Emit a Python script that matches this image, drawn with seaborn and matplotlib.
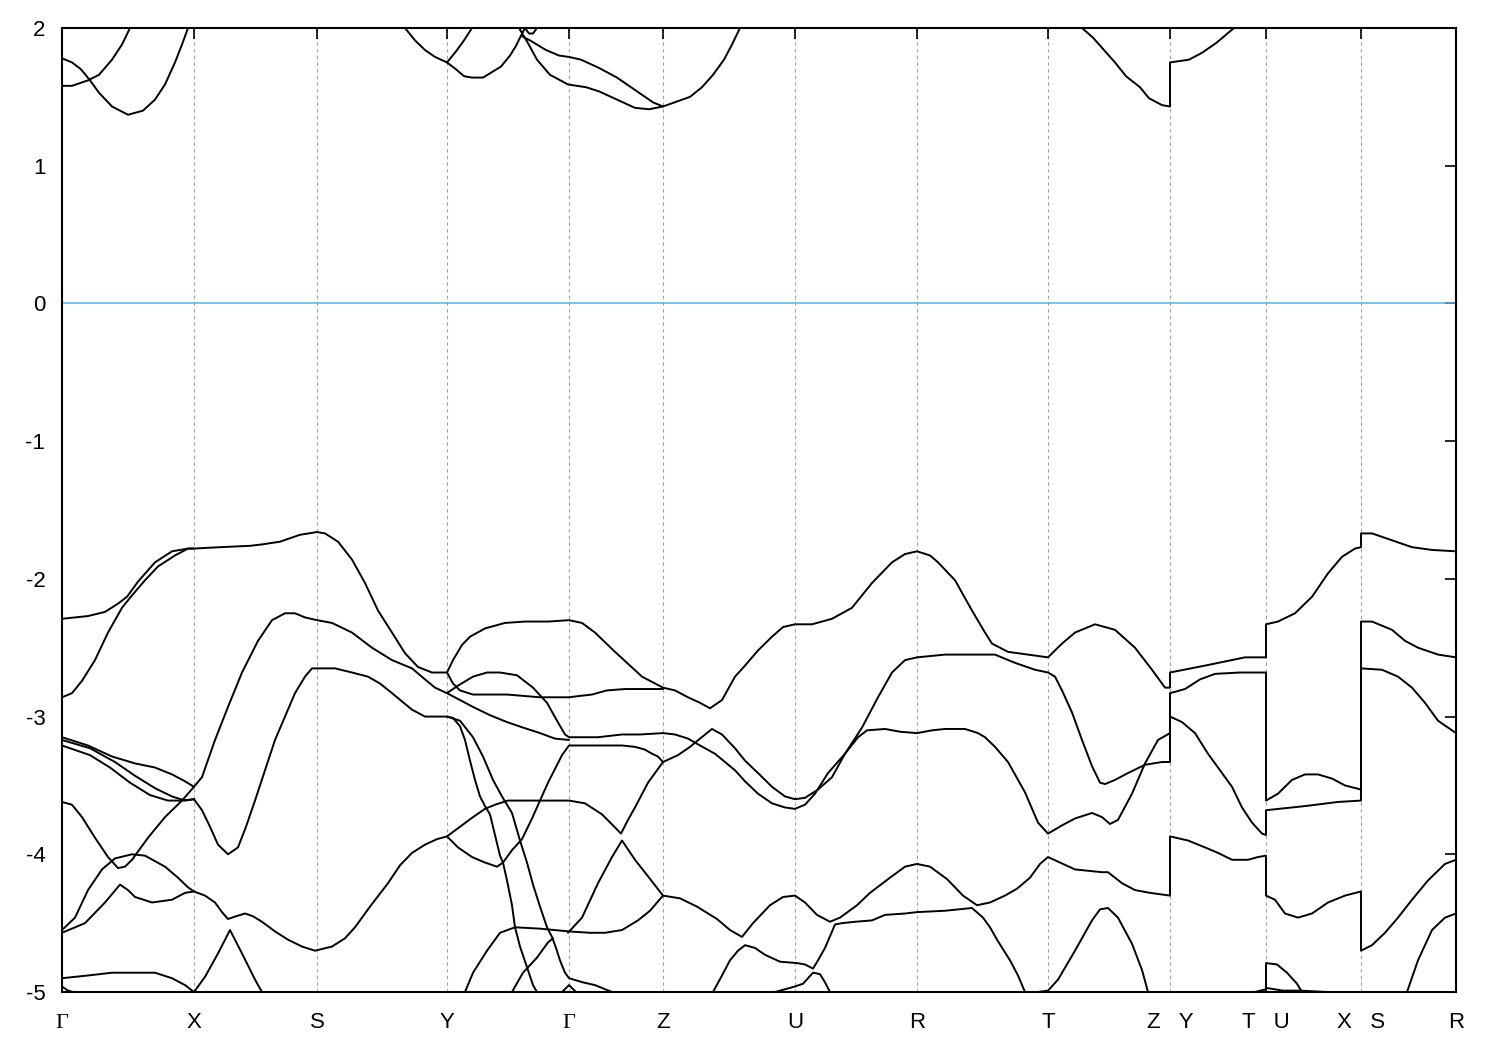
import matplotlib
matplotlib.use("Agg")
import matplotlib.pyplot as plt
import pandas as pd
import seaborn as sns

# ---------- high-symmetry path ----------
hs_k = [0, 132, 255, 385, 507, 601, 733, 855, 986, 1108, 1204, 1299, 1394]
hs_labels = ["Γ", "X", "S", "Y", "Γ", "Z", "U", "R", "T", "Z   Y", "T   U", "X   S", "R"]
y_ticks = [-5, -4, -3, -2, -1, 0, 1, 2]

# ---------- bands (k, E in eV) ----------
# valence bands
band_a = [(0, -2.29), (26, -2.27), (43, -2.24), (56, -2.18), (65, -2.13), (76, -2.02), (93, -1.88),
          (110, -1.80), (126, -1.78), (132, -1.78), (158, -1.77), (188, -1.76), (200, -1.75), (218, -1.73),
          (238, -1.68), (255, -1.66), (263, -1.67), (276, -1.73), (290, -1.86), (303, -2.03), (316, -2.23),
          (330, -2.39), (343, -2.54), (356, -2.64), (370, -2.68), (385, -2.68), (391, -2.59), (400, -2.48),
          (408, -2.42), (423, -2.36), (443, -2.32), (463, -2.31), (486, -2.31), (507, -2.30), (520, -2.32),
          (533, -2.39), (553, -2.53), (580, -2.71), (601, -2.79), (613, -2.81), (626, -2.86), (638, -2.90),
          (648, -2.94), (660, -2.88), (673, -2.71), (683, -2.63), (696, -2.52), (710, -2.42), (721, -2.35),
          (733, -2.33), (750, -2.33), (770, -2.29), (790, -2.21), (810, -2.03), (830, -1.88), (843, -1.82),
          (855, -1.80), (868, -1.83), (876, -1.88), (893, -2.01), (910, -2.23), (923, -2.39), (930, -2.47),
          (946, -2.53), (966, -2.55), (986, -2.57), (1000, -2.47), (1013, -2.39), (1033, -2.33), (1053, -2.37),
          (1073, -2.50), (1090, -2.66), (1103, -2.79), (1108, -2.79), (1108, -2.68), (1143, -2.63),
          (1163, -2.60), (1183, -2.57), (1204, -2.57), (1204, -2.33), (1216, -2.31), (1233, -2.25),
          (1250, -2.13), (1266, -1.96), (1280, -1.84), (1293, -1.78), (1299, -1.77), (1299, -1.67),
          (1310, -1.67), (1330, -1.72), (1350, -1.77), (1370, -1.79), (1394, -1.80)]
band_g2 = [(0, -2.86), (10, -2.83), (20, -2.74), (33, -2.59), (46, -2.39), (60, -2.21), (70, -2.12),
           (83, -2.01), (96, -1.91), (113, -1.83), (126, -1.78), (132, -1.78)]
band_trio1 = [(0, -3.15), (26, -3.21), (50, -3.29), (73, -3.34), (93, -3.37), (110, -3.42), (123, -3.47), (132, -3.51)]
band_trio2 = [(0, -3.17), (28, -3.23), (53, -3.33), (73, -3.43), (93, -3.52), (110, -3.58), (123, -3.61), (132, -3.60)]
band_trio3 = [(0, -3.21), (28, -3.28), (48, -3.37), (68, -3.48), (88, -3.57), (106, -3.61), (120, -3.61), (132, -3.60)]
band_la = [(0, -3.62), (10, -3.64), (20, -3.73), (33, -3.88), (46, -4.02), (56, -4.10), (63, -4.09), (70, -4.04),
           (86, -3.88), (103, -3.73), (120, -3.61), (132, -3.51), (140, -3.44), (153, -3.17), (166, -2.93),
           (180, -2.68), (196, -2.45), (210, -2.30), (223, -2.25), (233, -2.25), (243, -2.28), (255, -2.30),
           (270, -2.32), (290, -2.39), (310, -2.50), (330, -2.59), (350, -2.65), (363, -2.73), (373, -2.79),
           (385, -2.83), (395, -2.78), (411, -2.71), (425, -2.68), (438, -2.68), (455, -2.70), (471, -2.79),
           (485, -2.90), (495, -3.03), (503, -3.13), (507, -3.15), (536, -3.15), (560, -3.13), (578, -3.13),
           (601, -3.12), (613, -3.13), (626, -3.16), (638, -3.21), (653, -3.27), (673, -3.39), (683, -3.47),
           (696, -3.56), (710, -3.63), (723, -3.66), (733, -3.67), (743, -3.64), (753, -3.56), (766, -3.41),
           (783, -3.27), (800, -3.08), (816, -2.86), (830, -2.68), (843, -2.59), (855, -2.57), (883, -2.55),
           (913, -2.55), (933, -2.55), (953, -2.61), (973, -2.66), (986, -2.68), (993, -2.71), (1000, -2.81),
           (1010, -2.97), (1020, -3.17), (1030, -3.36), (1038, -3.48), (1043, -3.49), (1053, -3.46),
           (1066, -3.41), (1083, -3.35), (1100, -3.33), (1108, -3.33), (1108, -3.00), (1120, -3.04),
           (1133, -3.12), (1146, -3.27), (1156, -3.37), (1170, -3.51), (1180, -3.66), (1190, -3.77),
           (1200, -3.85), (1204, -3.86), (1204, -3.68), (1243, -3.65), (1276, -3.62), (1299, -3.61),
           (1299, -2.65), (1320, -2.66), (1336, -2.71), (1350, -2.79), (1363, -2.90), (1376, -3.03), (1394, -3.12)]
band_f = [(132, -3.60), (140, -3.68), (148, -3.80), (156, -3.93), (166, -4.00), (176, -3.95), (184, -3.80),
          (193, -3.61), (203, -3.39), (213, -3.17), (223, -3.00), (233, -2.83), (243, -2.71), (250, -2.65),
          (255, -2.65), (273, -2.65), (290, -2.68), (306, -2.71), (318, -2.76), (330, -2.83), (350, -2.95),
          (363, -3.00), (385, -3.00), (391, -3.01), (398, -3.07), (403, -3.17), (408, -3.32), (413, -3.46),
          (418, -3.58), (423, -3.65), (428, -3.71), (433, -3.86), (438, -4.01), (441, -4.06), (445, -4.19),
          (450, -4.37), (453, -4.53), (458, -4.67), (465, -4.82), (471, -4.95), (475, -5.00)]
band_q = [(385, -3.00), (398, -3.03), (411, -3.15), (421, -3.29), (431, -3.46), (440, -3.58), (450, -3.70),
          (458, -3.90), (465, -4.06), (471, -4.22), (478, -4.38), (485, -4.53), (490, -4.60), (494, -4.68),
          (498, -4.77), (503, -4.86), (507, -4.90), (521, -4.93), (533, -4.95), (550, -5.00)]
band_yrise = [(385, -3.87), (398, -3.80), (411, -3.73), (423, -3.67), (433, -3.64), (446, -3.61), (463, -3.61),
              (483, -3.61), (507, -3.61), (523, -3.63), (540, -3.71), (551, -3.79), (559, -3.85), (566, -3.75),
              (573, -3.66), (586, -3.48), (601, -3.33), (616, -3.28), (628, -3.22), (638, -3.16), (650, -3.09),
              (660, -3.13), (673, -3.23), (683, -3.32), (696, -3.41), (710, -3.51), (723, -3.58), (733, -3.60),
              (743, -3.59), (756, -3.53), (770, -3.44), (783, -3.27), (796, -3.15), (805, -3.10), (823, -3.09),
              (838, -3.11), (855, -3.12), (870, -3.10), (883, -3.09), (903, -3.09), (916, -3.12), (923, -3.15),
              (933, -3.22), (946, -3.33), (963, -3.55), (976, -3.77), (986, -3.85), (1000, -3.79), (1013, -3.74),
              (1030, -3.70), (1040, -3.73), (1048, -3.78), (1056, -3.75), (1070, -3.56), (1083, -3.34),
              (1096, -3.17), (1108, -3.12), (1108, -2.83), (1123, -2.80), (1138, -2.73), (1153, -2.69),
              (1178, -2.68), (1204, -2.68), (1204, -3.61), (1216, -3.56), (1230, -3.46), (1243, -3.42),
              (1256, -3.42), (1270, -3.45), (1283, -3.50), (1299, -3.53), (1299, -2.31), (1310, -2.31),
              (1330, -2.37), (1343, -2.45), (1356, -2.50), (1376, -2.55), (1394, -2.57)]
band_dip = [(385, -3.87), (396, -3.95), (410, -4.02), (423, -4.06), (435, -4.09), (441, -4.06), (450, -3.97),
            (460, -3.89), (470, -3.74), (478, -3.61), (486, -3.48), (493, -3.38), (500, -3.28), (507, -3.21),
            (536, -3.21), (560, -3.21), (573, -3.22), (583, -3.24), (590, -3.27), (596, -3.29), (601, -3.33)]
band_line4 = [(385, -2.83), (398, -2.88), (411, -2.93), (428, -2.99), (445, -3.04), (461, -3.08), (478, -3.12),
              (493, -3.16), (507, -3.17)]
band_c = [(385, -2.68), (391, -2.76), (398, -2.81), (411, -2.84), (445, -2.84), (478, -2.86), (507, -2.86),
          (518, -2.85), (530, -2.84), (545, -2.81), (563, -2.80), (583, -2.80), (601, -2.80)]
band_xs = [(132, -4.27), (143, -4.30), (153, -4.35), (160, -4.42), (166, -4.47), (174, -4.45), (183, -4.43),
           (191, -4.45), (200, -4.49), (213, -4.56), (226, -4.62), (240, -4.67), (253, -4.70), (270, -4.67),
           (283, -4.61), (293, -4.53), (308, -4.38), (326, -4.21), (338, -4.08), (350, -3.99), (363, -3.93),
           (375, -3.89), (385, -3.87)]
band_lb = [(0, -4.55), (13, -4.46), (26, -4.26), (40, -4.11), (53, -4.03), (70, -4.00), (83, -4.01), (103, -4.09),
           (116, -4.17), (126, -4.24), (132, -4.27)]
band_lc = [(0, -4.57), (23, -4.50), (43, -4.35), (58, -4.22), (66, -4.26), (73, -4.31), (90, -4.35), (110, -4.33),
           (123, -4.28), (132, -4.27)]
band_ld = [(0, -4.90), (26, -4.88), (50, -4.86), (76, -4.86), (93, -4.86), (110, -4.90), (123, -4.95), (132, -5.00),
           (143, -4.89), (156, -4.72), (168, -4.55), (180, -4.72), (193, -4.91), (200, -5.00)]
band_le = [(0, -4.96), (6, -4.99), (11, -5.00)]
band_r1 = [(403, -5.00), (411, -4.86), (425, -4.70), (438, -4.57), (453, -4.53), (478, -4.54), (507, -4.56),
           (528, -4.57), (543, -4.57), (560, -4.55), (576, -4.48), (588, -4.41), (601, -4.30), (618, -4.32),
           (635, -4.38), (655, -4.47), (668, -4.55), (680, -4.60), (691, -4.50), (708, -4.37), (721, -4.31),
           (733, -4.30), (743, -4.35), (755, -4.44), (768, -4.49), (778, -4.46), (795, -4.37), (808, -4.28),
           (828, -4.17), (843, -4.09), (855, -4.07), (868, -4.09), (885, -4.18), (901, -4.30), (915, -4.37),
           (928, -4.35), (943, -4.30), (955, -4.25), (968, -4.17), (978, -4.07), (986, -4.02), (1013, -4.11),
           (1040, -4.13), (1046, -4.13), (1060, -4.21), (1073, -4.26), (1088, -4.28), (1108, -4.30),
           (1108, -3.87), (1126, -3.90), (1143, -3.95), (1156, -3.99), (1170, -4.04), (1186, -4.04),
           (1196, -4.02), (1204, -4.01), (1204, -4.30), (1213, -4.33), (1223, -4.43), (1236, -4.46),
           (1250, -4.43), (1266, -4.35), (1283, -4.30), (1299, -4.27), (1299, -4.70), (1310, -4.66),
           (1323, -4.57), (1336, -4.46), (1350, -4.33), (1366, -4.19), (1383, -4.07), (1394, -4.04)]
band_r2 = [(450, -5.00), (461, -4.86), (475, -4.75), (486, -4.64), (491, -4.61)]
band_invv = [(506, -4.57), (520, -4.46), (536, -4.21), (550, -4.02), (560, -3.90), (573, -4.04), (586, -4.16), (601, -4.30)]
band_lam = [(500, -5.00), (507, -4.95), (514, -5.00)]
band_zu = [(651, -5.00), (660, -4.88), (668, -4.77), (676, -4.70), (683, -4.66), (693, -4.68), (703, -4.73),
           (718, -4.78), (735, -4.79), (743, -4.80), (751, -4.83), (756, -4.77), (763, -4.68), (773, -4.51),
           (780, -4.50), (793, -4.49), (810, -4.48), (823, -4.44), (843, -4.43), (855, -4.42), (883, -4.41),
           (910, -4.39), (921, -4.46), (928, -4.53), (935, -4.62), (948, -4.77), (956, -4.88), (963, -5.00)]
band_ubump = [(713, -5.00), (733, -4.96), (741, -4.94), (751, -4.86), (758, -4.87), (763, -4.93), (768, -5.00)]
band_tbump = [(976, -5.00), (986, -4.99), (996, -4.91), (1013, -4.70), (1030, -4.48), (1038, -4.40), (1046, -4.39),
              (1056, -4.46), (1070, -4.65), (1080, -4.84), (1086, -5.00)]
band_tu_arc = [(1193, -5.00), (1204, -4.98), (1204, -4.79), (1215, -4.80), (1225, -4.86), (1235, -4.94), (1240, -5.00)]
band_tu_flat = [(1204, -5.00), (1204, -4.97), (1221, -4.99), (1238, -4.99), (1265, -5.00)]
band_r_low = [(1345, -5.00), (1356, -4.77), (1370, -4.55), (1383, -4.46), (1394, -4.43)]

# conduction bands
cb_1 = [(0, 1.78), (10, 1.75), (19, 1.70), (28, 1.62), (37, 1.53), (50, 1.43), (66, 1.37), (81, 1.40), (93, 1.48),
        (103, 1.59), (113, 1.75), (120, 1.88), (126, 2.00)]
cb_2 = [(0, 1.58), (10, 1.58), (26, 1.62), (37, 1.66), (50, 1.77), (60, 1.88), (68, 2.00)]
cb_3 = [(343, 2.00), (353, 1.91), (363, 1.84), (373, 1.79), (385, 1.75)]
cb_4 = [(385, 1.75), (394, 1.83), (402, 1.91), (410, 2.00)]
cb_5 = [(385, 1.75), (394, 1.70), (402, 1.65), (410, 1.64), (421, 1.64), (430, 1.68), (439, 1.72), (448, 1.80),
        (454, 1.87), (458, 1.93), (463, 2.00)]
cb_6 = [(457, 2.00), (466, 1.89), (475, 1.77), (488, 1.66), (506, 1.59), (524, 1.57), (537, 1.54), (555, 1.48),
        (573, 1.42), (587, 1.41), (601, 1.43)]
cb_7 = [(460, 1.94), (468, 1.91), (484, 1.84), (497, 1.80), (507, 1.79), (519, 1.77), (537, 1.71), (555, 1.64),
        (573, 1.55), (591, 1.46), (601, 1.43), (628, 1.50), (640, 1.57), (651, 1.66), (662, 1.77), (670, 1.88),
        (678, 2.00)]
cb_loop = [(463, 2.00), (467, 1.96), (471, 1.96), (475, 2.00)]
cb_8 = [(1020, 2.00), (1031, 1.93), (1042, 1.84), (1053, 1.75), (1064, 1.65), (1078, 1.57), (1087, 1.49),
        (1100, 1.44), (1108, 1.43), (1108, 1.75), (1127, 1.77), (1140, 1.82), (1154, 1.89), (1172, 2.00)]

curves = {
    "a": band_a, "g2": band_g2, "t1": band_trio1, "t2": band_trio2, "t3": band_trio3, "la": band_la,
    "f": band_f, "q": band_q, "yrise": band_yrise, "dip": band_dip, "l4": band_line4, "c": band_c,
    "xs": band_xs, "lb": band_lb, "lc": band_lc, "ld": band_ld, "le": band_le, "r1": band_r1, "r2": band_r2,
    "invv": band_invv, "lam": band_lam, "zu": band_zu, "ub": band_ubump, "tb": band_tbump,
    "tua": band_tu_arc, "tuf": band_tu_flat, "rl": band_r_low,
    "c1": cb_1, "c2": cb_2, "c3": cb_3, "c4": cb_4, "c5": cb_5, "c6": cb_6, "c7": cb_7, "cl": cb_loop, "c8": cb_8,
}
df = pd.DataFrame([(name, k, e) for name, pts in curves.items() for k, e in pts], columns=["band", "k", "E"])

# ---------- plot ----------
sns.set_theme(style="white")
plt.rcParams["font.family"] = ["Liberation Sans", "DejaVu Sans"]
plt.rcParams["axes.unicode_minus"] = False

fig = plt.figure(figsize=(15, 10.5), dpi=100)
ax = fig.add_axes([62 / 1500, 1 - 992 / 1050, (1456 - 62) / 1500, (992 - 28) / 1050])

# dashed lines at the high-symmetry points, Fermi level at 0
for k in hs_k[1:-1]:
    ax.axvline(k, color="#a0a0a0", lw=0.8, ls=(0, (3, 3)), zorder=0)
ax.axhline(0, color="#56b4e9", lw=1.1, zorder=1)

sns.lineplot(data=df, x="k", y="E", units="band", estimator=None, sort=False,
             color="black", linewidth=1.4, ax=ax, legend=False)

ax.set_xlim(hs_k[0], hs_k[-1])
ax.set_ylim(-5, 2)
ax.set_xticks(hs_k)
ax.set_xticklabels(hs_labels)
ax.set_yticks(y_ticks)
ax.set_yticklabels([str(v) for v in y_ticks])
ax.set_xlabel("")
ax.set_ylabel("")
ax.tick_params(direction="in", length=8, width=1.2, top=True, right=True, labelsize=16, colors="black")
ax.tick_params(axis="x", pad=26)
ax.tick_params(axis="y", pad=12)
# baseline-align the x labels so the serif Γ sits on the same line as the rest
for lbl in ax.get_xticklabels():
    lbl.set_verticalalignment("baseline")
    if lbl.get_text() == "Γ":
        lbl.set_family("Liberation Serif")
for sp in ax.spines.values():
    sp.set_color("black")
    sp.set_linewidth(1.5)

fig.savefig("out.png", dpi=100)
